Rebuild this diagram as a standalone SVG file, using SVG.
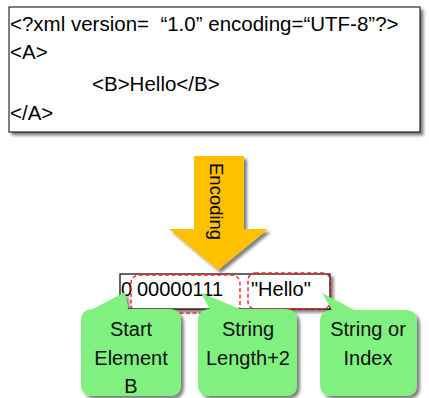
<svg xmlns="http://www.w3.org/2000/svg" width="429" height="398" viewBox="0 0 429 398">
  <defs>
    <filter id="shadow" x="-10%" y="-10%" width="130%" height="130%">
      <feGaussianBlur in="SourceAlpha" stdDeviation="1.5"/>
      <feOffset dx="3" dy="3" result="off"/>
      <feComponentTransfer><feFuncA type="linear" slope="0.5"/></feComponentTransfer>
      <feMerge><feMergeNode/><feMergeNode in="SourceGraphic"/></feMerge>
    </filter>
  </defs>
  <style>
    text { font-family: "Liberation Sans", Arial, sans-serif; fill: #000; }
    .xml { font-size: 20.5px; }
    .code { font-size: 20px; }
    .callout { fill: #80F080; filter: url(#shadow); }
    .label { font-size: 20px; text-anchor: middle; fill: #111; }
    .mark { fill: none; stroke: #FF2020; stroke-width: 1.4; stroke-dasharray: 4 2.5; }
  </style>

  <!-- XML source document -->
  <g id="xml-source">
    <rect x="9" y="7" width="411" height="125" fill="#fff" stroke="#000" stroke-width="1" filter="url(#shadow)"/>
    <text class="xml" x="10" y="31" xml:space="preserve">&lt;?xml version=  “1.0” encoding=“UTF-8”?&gt;</text>
    <text class="xml" x="10" y="59">&lt;A&gt;</text>
    <text class="xml" x="92" y="91">&lt;B&gt;Hello&lt;/B&gt;</text>
    <text class="xml" x="10" y="120">&lt;/A&gt;</text>
  </g>

  <!-- Encoding arrow -->
  <g id="encoding-arrow">
    <path d="M194 156 H244 V229 H268 L218 270 L169 229 H194 Z" fill="#FFC000" filter="url(#shadow)"/>
    <text x="210" y="163" font-size="18.5" transform="rotate(90 210 163)">Encoding</text>
  </g>

  <!-- Encoded bytes -->
  <g id="encoded">
    <rect x="120" y="274" width="210" height="35" fill="#fff" stroke="#000" stroke-width="1.2" filter="url(#shadow)"/>
    <text class="code" x="121" y="296">0</text>
    <text class="code" x="137" y="296">00000111</text>
    <text class="code" x="251" y="296">"Hello"</text>
  </g>

  <!-- Highlighted fields -->
  <g id="highlights">
    <rect class="mark" x="131" y="275" width="109" height="38" rx="8"/>
    <rect class="mark" x="248" y="273" width="82" height="36" rx="7"/>
  </g>

  <!-- Callouts -->
  <g id="callout-start">
    <path class="callout" d="M93 309 L125 292 L128 309 H169 Q181 309 181 321 V384 Q181 396 169 396 H93 Q81 396 81 384 V321 Q81 309 93 309 Z"/>
    <text class="label" x="131" y="336">Start</text>
    <text class="label" x="131" y="365">Element</text>
    <text class="label" x="131" y="393">B</text>
  </g>
  <g id="callout-length">
    <path class="callout" d="M210 309 L201 293 L240 309 H285 Q297 309 297 321 V384 Q297 396 285 396 H210 Q198 396 198 384 V321 Q198 309 210 309 Z"/>
    <text class="label" x="248" y="336">String</text>
    <text class="label" x="248" y="365">Length+2</text>
  </g>
  <g id="callout-value">
    <path class="callout" d="M332 310 L322 293 L354 310 H405 Q417 310 417 322 V384 Q417 396 405 396 H332 Q320 396 320 384 V322 Q320 310 332 310 Z"/>
    <text class="label" x="368" y="336">String or</text>
    <text class="label" x="368" y="365">Index</text>
  </g>
</svg>
